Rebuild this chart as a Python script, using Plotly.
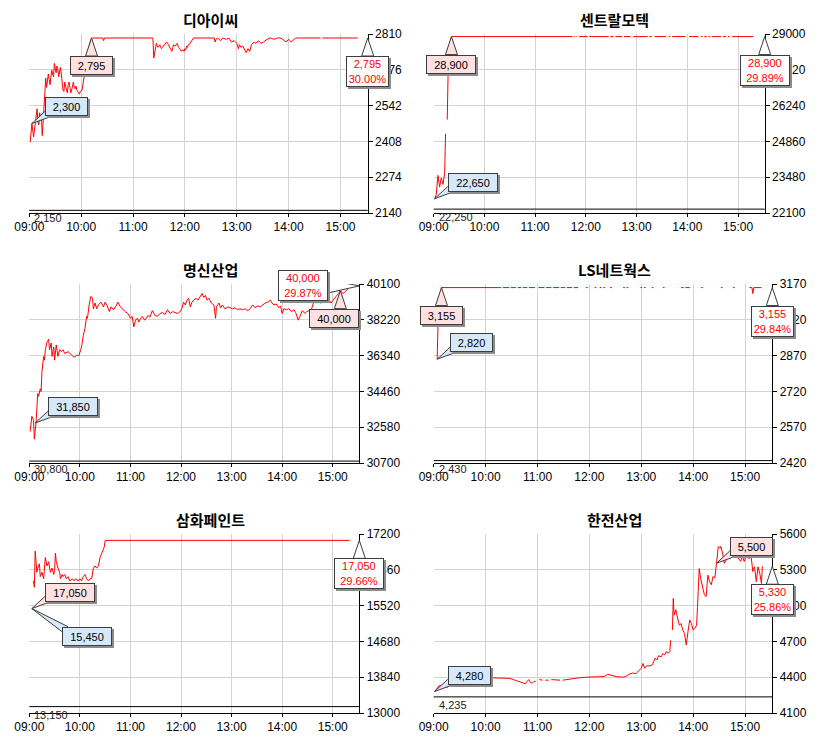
import datetime as dt
import plotly.graph_objects as go

W, H = 833, 740
OPEN = dt.datetime(2024, 1, 2, 9, 0)
VIEW_END = 391.5  # minutes after 09:00 shown on the x axis

FONT = "Liberation Sans"
KFONT = "Noto Sans CJK KR"
RED = "#ff0000"
PINK = "#ffe1e1"
BLUE = "#d6e8fb"
EDGE = "#3c3c3c"
SHADOW = "#8c8c8c"
GRID = "#d3d3d3"

# ---------------- data (x = minutes after 09:00, y = price) ----------------
titles = ["디아이씨", "센트랄모텍", "명신산업", "LS네트웍스", "삼화페인트", "한전산업"]
y_lo = [2140, 22100, 30700, 2420, 13000, 4100]
y_hi = [2810, 29000, 40100, 3170, 17200, 5600]
base_px = [2150, 22250, 30800, 2430, 13150, 4235]   # previous close

hi_lbl = [2795, 28900, 40000, 3155, 17050, 5500]
hi_min = [72, 21, 369, 9, 3, 327]
hi_px = [2795, 28900, 39750, 3155, 15450, 5355]
lo_lbl = [2300, 22650, 31850, 2820, 15450, 4280]
lo_min = [3, 1, 7, 4, 3, 1]
lo_px = [2475, 22650, 32800, 2855, 15450, 4280]

# 디아이씨
dic_min = [
    1, 3, 5, 7, 9, 10, 11, 12, 13, 14,
    15, 16, 17, 18, 19, 20, 21, 22, 23, 24,
    25, 26, 27, 28, 29, 30, 31, 32, 33, 34,
    35, 36, 37, 38, 39, 40, 41, 42, 43, 44,
    45, 46, 47, 48, 49, 50, 51, 52, 53, 54,
    55, 57, 58, 59, 61, 62, 63, 64, 65, 66,
    67, 68, 69, 70, 71, 72, 85, 86, 87, 143,
    144, 145, 146, 147, 148, 149, 150, 151, 152, 153,
    154, 155, 156, 157, 158, 159, 160, 161, 162, 163,
    164, 165, 166, 167, 168, 169, 170, 171, 172, 173,
    174, 175, 176, 177, 178, 179, 180, 181, 182, 183,
    184, 185, 186, 187, 188, 189, 190, 214, 215, 216,
    218, 221, 224, 228, 231, 234, 237, 240, 242, 243,
    245, 247, 249, 251, 253, 255, 257, 260, 262, 265,
    268, 271, 275, 279, 283, 287, 291, 295, 297, 300,
    303, 308, 337, 338, 339, 380]
dic_px = [
    2405, 2475, 2425, 2470, 2530, 2480, 2470, 2515, 2495, 2500,
    2430, 2480, 2545, 2600, 2645, 2610, 2630, 2660, 2640, 2620,
    2650, 2675, 2660, 2650, 2700, 2680, 2665, 2690, 2680, 2650,
    2670, 2685, 2660, 2625, 2600, 2595, 2630, 2615, 2605, 2590,
    2620, 2630, 2610, 2590, 2600, 2625, 2630, 2610, 2605, 2615,
    2600, 2590, 2585, 2595, 2600, 2620, 2650, 2660, 2680, 2705,
    2730, 2750, 2760, 2775, 2790, 2795, 2795, 2785, 2795, 2795,
    2720, 2735, 2760, 2775, 2765, 2760, 2765, 2770, 2760, 2755,
    2760, 2765, 2770, 2775, 2780, 2780, 2775, 2770, 2765, 2760,
    2750, 2745, 2760, 2770, 2765, 2765, 2770, 2775, 2765, 2760,
    2750, 2745, 2745, 2750, 2750, 2745, 2755, 2750, 2765, 2760,
    2770, 2770, 2775, 2780, 2785, 2790, 2795, 2795, 2780, 2790,
    2795, 2785, 2795, 2790, 2795, 2780, 2785, 2775, 2755, 2770,
    2760, 2765, 2755, 2740, 2755, 2745, 2770, 2780, 2775, 2785,
    2775, 2780, 2790, 2795, 2790, 2795, 2795, 2785, 2780, 2790,
    2780, 2795, 2795, None, 2795, 2795]

# 센트랄모텍: opening run-up, then traded at the upper limit in runs
ctm_min = [1, 3, 5, 7, 9, 11, 13, 14, 15, 16, 17, 19, 21]
ctm_px = [22650, 22800, 23550, 23100, 23450, 23200, 23650, 25150, None, 25700, 27400, 28400, 28900]
ctm_limit = 28900
ctm_runs = [(21, 164), (166, 167), (169, 170), (172, 182), (184, 207), (209, 213),
            (215, 223), (225, 233), (236, 253), (255, 258), (261, 275), (278, 280),
            (282, 298), (302, 313), (316, 318), (320, 323), (325, 327), (329, 340),
            (342, 346), (348, 350), (353, 378)]

# 명신산업
msi_min = [
    1, 3, 5, 6, 8, 9, 10, 11, 13, 14,
    15, 17, 18, 19, 21, 23, 24, 26, 27, 29,
    30, 32, 34, 36, 38, 40, 42, 46, 50, 53,
    56, 59, 61, 62, 64, 66, 68, 69, 71, 73,
    75, 76, 78, 80, 82, 85, 88, 90, 92, 95,
    97, 100, 103, 105, 108, 110, 114, 117, 120, 122,
    124, 126, 128, 130, 132, 134, 137, 141, 143, 146,
    149, 152, 155, 158, 161, 164, 167, 170, 173, 176,
    179, 181, 183, 185, 187, 189, 191, 193, 195, 198,
    200, 203, 205, 207, 209, 211, 213, 216, 219, 221,
    222, 225, 227, 229, 232, 236, 238, 241, 244, 247,
    250, 253, 256, 259, 262, 265, 268, 271, 274, 277,
    280, 283, 286, 288, 290, 293, 296, 298, 300, 302,
    305, 308, 311, 314, 316, 319, 322, 324, 327, 329,
    332, 335, 337, 339, 341, 343, 346, 349, 351, 353,
    356, 358, 361, 364, 367, 369, 372, 375, 378, 380]
msi_px = [
    32350, 33150, 32950, 31950, 32800, 33900, 34350, 34200, 34600, 34450,
    35500, 36300, 36100, 36650, 37050, 37200, 36650, 37000, 36300, 36800,
    36100, 36900, 36300, 36650, 36550, 36650, 36450, 36550, 36350, 36250,
    36350, 36350, 36650, 36800, 37400, 37750, 38400, 38300, 39000, 39450,
    39350, 38800, 39100, 38800, 39000, 39150, 38900, 39150, 39000, 38650,
    38900, 38750, 38950, 39150, 38900, 38800, 38650, 38550, 38300, 38400,
    37850, 38200, 38300, 38100, 38300, 38400, 38200, 38450, 38350, 38700,
    38450, 38400, 38550, 38600, 38500, 38750, 38550, 38650, 38600, 38550,
    38650, 38800, 39150, 39000, 39250, 39350, 38900, 39150, 39250, 39350,
    39250, 39450, 39600, 39400, 39500, 39250, 39350, 39100, 39000, 38300,
    38900, 39100, 38850, 39000, 38800, 38900, 38850, 38800, 38850, 38750,
    38800, 38750, 38800, 38700, 38800, 39000, 38850, 38950, 38900, 39000,
    39100, 39150, 39250, 39100, 39000, 39050, 38850, 38950, 38550, 38800,
    38750, 38800, 38650, 38750, 38600, 38200, 38500, 38700, 38550, 38650,
    38700, 38800, 39100, 39350, 39100, 39150, 39100, 39200, 39250, 39100,
    39250, 39100, 39300, 39450, 39600, 39750, 39600, 39700, 39850, 40000]

# LS네트웍스
lsn_min = [4, 5, 7, 9]
lsn_px = [2855, 3000, 3120, 3155]
lsn_limit = 3155
lsn_runs = [(9, 78), (80, 87), (89, 95), (97, 101), (103, 108), (110, 117), (121, 128),
            (130, 136), (138, 145), (147, 152), (154, 160), (162, 167), (176, 178),
            (186, 188), (192, 194), (196, 198), (204, 206), (219, 221), (223, 225),
            (239, 241), (243, 245), (252, 254), (265, 267), (286, 289), (291, 296),
            (309, 311), (332, 334), (346, 348)]
lsn_tail_min = [365, 368, 369, 370, 379]
lsn_tail_px = [3155, 3155, 3130, 3155, 3155]

# 삼화페인트
shp_min = [
    5, 6, 7, 9, 10, 12, 13, 15, 17, 18,
    19, 21, 23, 25, 27, 29, 30, 31, 32, 34,
    36, 37, 39, 40, 42, 44, 46, 48, 51, 53,
    55, 58, 60, 62, 64, 66, 68, 70, 72, 74,
    76, 78, 80, 82, 84, 86, 87, 89, 90, 380]
shp_px = [
    16100, 15950, 16800, 16300, 16400, 16500, 16200, 16300, 16150, 16450,
    16650, 16450, 16550, 16300, 16400, 16250, 16350, 16750, 16550, 16400,
    16300, 16150, 16250, 16200, 16250, 16150, 16200, 16100, 16150, 16100,
    16150, 16100, 16150, 16100, 16200, 16250, 16150, 16100, 16150, 16150,
    16400, 16450, 16400, 16450, 16650, 16750, 16800, 16900, 17050, 17050]

# 한전산업
hjs_min = [
    1, 3, 5, 7, 9, 11, 13, 15, 17, 19,
    21, 23, 26, 30, 40, 50, 60, 66, 72, 80,
    88, 92, 96, 100, 103, 106, 108, 110, 112, 114,
    116, 118, 119, 122, 126, 127, 129, 133, 134, 136,
    142, 146, 147, 149, 153, 160, 168, 176, 184, 192,
    197, 201, 205, 211, 218, 222, 226, 230, 234, 237,
    240, 242, 244, 246, 250, 253, 256, 258, 260, 263,
    265, 267, 269, 271, 273, 274, 275, 276, 277, 278,
    280, 282, 284, 286, 288, 290, 292, 294, 296, 298,
    300, 302, 304, 305, 307, 309, 311, 313, 315, 317,
    319, 321, 323, 325, 327, 329, 331, 332, 334, 336,
    338, 341, 345, 349, 352, 355, 357, 359, 361, 365,
    367, 369, 371, 373, 375, 377, 379, 380]
hjs_px = [
    4280, 4300, 4310, 4335, 4320, 4345, 4320, 4310, 4335, 4350,
    4365, 4380, 4385, 4390, 4395, 4400, 4400, 4395, 4395, 4390,
    4390, 4380, 4370, 4360, 4350, 4345, 4365, 4380, 4355, 4350,
    4365, 4365, None, 4380, 4375, None, 4375, 4375, None, 4380,
    4375, 4375, None, 4375, 4380, 4390, 4395, 4400, 4400, 4400,
    4405, 4425, 4415, 4405, 4400, 4405, 4425, 4435, 4430, 4450,
    4475, 4515, 4475, 4495, 4495, 4505, 4560, 4545, 4580, 4570,
    4600, 4585, 4615, 4600, 4615, 4710, None, 4795, 5060, 4920,
    4965, 4895, 4835, 4850, 4795, 4765, 4670, 4780, 4880, 4850,
    4795, 4810, 4835, 4990, 5310, 5215, 5145, 5090, 5075, 5255,
    5200, 5175, 5245, 5230, 5355, 5495, 5480, 5495, 5440, 5355,
    5380, 5420, 5450, 5430, 5400, 5370, 5410, 5370, 5410, 5395,
    5410, 5285, 5325, 5200, 5325, 5270, 5185, 5330]

# ---------------- layout (pixels: left, right, top, bottom of each plot area) ----------------
DOMAINS = [(29.3, 367.7, 34, 213), (433.7, 764.7, 34, 213),
           (29.3, 359.3, 284, 463), (433.7, 772.3, 284, 463),
           (29.3, 359.3, 534, 713), (433.7, 772.3, 534, 713)]
TITLE_POS = [(210, 19.3), (614, 19.3), (210, 269.3), (614, 269.3), (210, 519.3), (614, 519.3)]
hi_place = ["below", "below", "below", "below", "ur", "ur"]
lo_place = ["ur", "ur", "ur", "ur", "dr", "ur"]
last_place = ["below", "below", "left", "below", "below", "below"]
hi_shift = [0, 0, -6, 0, 0, 0]


def ts(m):
    return (OPEN + dt.timedelta(minutes=m)).strftime("%Y-%m-%d %H:%M:%S")


def runs_series(runs, price):
    t, p = [], []
    for a, b in runs:
        t += [a, b, b]
        p += [price, price, None]
    return t, p


def build_series():
    out = [(dic_min, dic_px)]
    rt, rp = runs_series(ctm_runs, ctm_limit)
    out.append((ctm_min + rt, ctm_px + rp))
    out.append((msi_min, msi_px))
    rt, rp = runs_series(lsn_runs, lsn_limit)
    out.append((lsn_min + rt + lsn_tail_min, lsn_px + rp + lsn_tail_px))
    out.append((shp_min, shp_px))
    out.append((hjs_min, hjs_px))
    return out


def geometry(place, w, h, shift=0):
    '''box top-left (screen px, y down) relative to the tip + pointer base points'''
    if place == "below":
        left, top = -w / 2 + shift, 18
        base = [(-6, top), (6, top)]
    elif place == "ur":
        left, top = 13, -7 - h
        base = [(left, -12), (left + 6, -7)]
    elif place == "dr":
        left, top = 30, 18
        base = [(left + 6, top), (left, top + 5)]
    else:  # left
        left, top = -31 - w, -h / 2
        base = [(-31, -6), (-31, 7)]
    return left, top, base


def add_callout(fig, sx, tx, ty, text, width_chars, h, place, fill, color,
                shift=0, on_edge=False):
    w = 7 * width_chars + 8
    xref = "x" + sx + (" domain" if on_edge else "")
    yref = "y" + sx
    left, top, base = geometry(place, w, h, shift)
    path = "M0,0 L{},{} L{},{} Z".format(base[0][0], -base[0][1], base[1][0], -base[1][1])
    fig.add_shape(type="path", xref=xref, yref=yref, xsizemode="pixel", ysizemode="pixel",
                  xanchor=tx, yanchor=ty, path=path, fillcolor=fill,
                  line=dict(color=EDGE, width=1), layer="above")
    common = dict(xref=xref, yref=yref, x=tx, y=ty, xanchor="left", yanchor="top",
                  showarrow=False, borderpad=0)
    fig.add_annotation(text=" ", width=w, height=h, bgcolor=SHADOW, borderwidth=0,
                       xshift=left + 2, yshift=-top - 2, **common)
    fig.add_annotation(text=text, width=w - 2, height=h - 2, bgcolor=fill, bordercolor=EDGE,
                       borderwidth=1, xshift=left, yshift=-top,
                       font=dict(family=FONT, size=11, color=color), **common)


fig = go.Figure()
for i, (mins, prices) in enumerate(build_series()):
    sx = "" if i == 0 else str(i + 1)
    l, r, t, b = DOMAINS[i]
    fig.add_trace(go.Scatter(
        x=[ts(m) for m in mins], y=prices, mode="lines", connectgaps=False,
        line=dict(color=RED, width=1), xaxis="x" + sx, yaxis="y" + sx,
        hoverinfo="skip", showlegend=False))
    fig.update_layout(**{
        "xaxis" + sx: dict(domain=[l / W, r / W], anchor="y" + sx, type="date",
                           range=[ts(0), ts(VIEW_END)], tick0=ts(0), dtick=3600000,
                           tickformat="%H:%M", showgrid=True, gridcolor=GRID, gridwidth=1,
                           showline=True, linecolor="black", linewidth=1, zeroline=False,
                           ticks="outside", ticklen=3, tickcolor="black",
                           tickfont=dict(family=FONT, size=12, color="black"), fixedrange=True),
        "yaxis" + sx: dict(domain=[1 - b / H, 1 - t / H], anchor="x" + sx, side="right",
                           range=[y_lo[i], y_hi[i]], tick0=y_lo[i],
                           dtick=(y_hi[i] - y_lo[i]) / 5, tickformat="d",
                           showgrid=True, gridcolor=GRID, gridwidth=1, zeroline=False,
                           showline=True, linecolor="black", linewidth=1,
                           ticks="outside", ticklen=4, tickcolor="black",
                           tickfont=dict(family=FONT, size=12, color="black"), fixedrange=True),
    })

    # previous close line and its label
    fig.add_shape(type="line", xref="x" + sx + " domain", yref="y" + sx, x0=0, x1=1,
                  y0=base_px[i], y1=base_px[i], line=dict(color="black", width=1), layer="above")
    fig.add_annotation(xref="x" + sx + " domain", yref="y" + sx, x=0, y=base_px[i],
                       xanchor="left", yanchor="top", xshift=3, showarrow=False,
                       text="{:,}".format(base_px[i]),
                       font=dict(family=FONT, size=11, color="#222222"))

    # title
    tx, ty = TITLE_POS[i]
    fig.add_annotation(xref="paper", yref="paper", x=tx / W, y=1 - ty / H,
                       xanchor="center", yanchor="middle", showarrow=False,
                       text="<b>{}</b>".format(titles[i]),
                       font=dict(family=KFONT, size=15, color="black"))

    # high / low / last callouts
    hl = "{:,}".format(hi_lbl[i])
    ll = "{:,}".format(lo_lbl[i])
    add_callout(fig, sx, ts(hi_min[i]), hi_px[i], hl, len(hl), 19, hi_place[i], PINK,
                "black", shift=hi_shift[i])
    add_callout(fig, sx, ts(lo_min[i]), lo_px[i], ll, len(ll), 19, lo_place[i], BLUE, "black")
    last = [p for p in prices if p is not None][-1]
    pct = (last / base_px[i] - 1) * 100
    lt = "{:,}".format(last)
    add_callout(fig, sx, 1, last, "{}<br>{:.2f}%".format(lt, pct), len(lt), 31,
                last_place[i], "white", RED, on_edge=True)

fig.update_layout(width=W, height=H, margin=dict(l=0, r=0, t=0, b=0, autoexpand=False),
                  paper_bgcolor="white", plot_bgcolor="white", showlegend=False,
                  font=dict(family=FONT, size=12, color="black"))
fig.write_html("out.html", config={"displayModeBar": False},
               post_script="document.body.style.margin='0px';")
